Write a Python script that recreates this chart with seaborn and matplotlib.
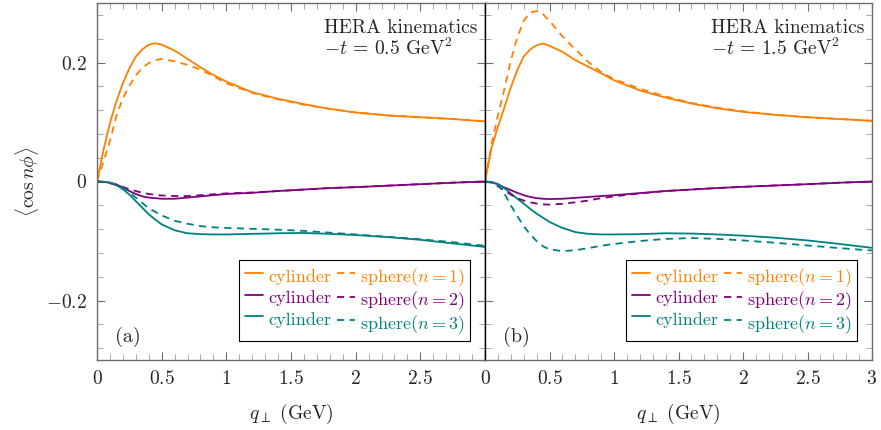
import numpy as np
import pandas as pd
import matplotlib
matplotlib.use("Agg")
import matplotlib.pyplot as plt
from matplotlib.ticker import MultipleLocator, FixedLocator
import seaborn as sns

sns.set_style("ticks")
plt.rcParams['font.family'] = ['cmr10', 'DejaVu Serif']
plt.rcParams['mathtext.fontset'] = 'cm'
plt.rcParams['axes.formatter.use_mathtext'] = True
plt.rcParams['axes.unicode_minus'] = True

# q_perp grid (GeV), shared by every curve
q_perp = [0, 0.05, 0.1, 0.15, 0.2, 0.25, 0.3, 0.35, 0.4, 0.45, 0.5, 0.6, 0.7,
          0.8, 0.9, 1.0, 1.2, 1.4, 1.6, 1.8, 2.0, 2.25, 2.5, 2.75, 3.0]

# panel (a): -t = 0.5 GeV^2
a_cyl_n1 = [0, 0.053, 0.098, 0.135, 0.165, 0.190, 0.210, 0.222, 0.230, 0.2325, 0.230, 0.220, 0.206,
            0.192, 0.179, 0.168, 0.150, 0.139, 0.130, 0.122, 0.116, 0.111, 0.108, 0.105, 0.101]
a_sph_n1 = [0, 0.033, 0.068, 0.110, 0.140, 0.161, 0.178, 0.191, 0.199, 0.204, 0.206, 0.202, 0.196,
            0.188, 0.177, 0.165, 0.149, 0.138, 0.129, 0.122, 0.116, 0.111, 0.108, 0.105, 0.101]
a_cyl_n2 = [0, -0.0005, -0.002, -0.005, -0.010, -0.016, -0.021, -0.025, -0.027, -0.028, -0.029, -0.029, -0.027,
            -0.025, -0.023, -0.021, -0.019, -0.016, -0.0135, -0.011, -0.0095, -0.007, -0.0045, -0.002, 0.0]
a_sph_n2 = [0, -0.001, -0.003, -0.006, -0.009, -0.013, -0.016, -0.019, -0.021, -0.0225, -0.0235, -0.0245, -0.0245,
            -0.023, -0.0215, -0.020, -0.0185, -0.016, -0.0135, -0.011, -0.0095, -0.007, -0.0045, -0.002, 0.0]
a_cyl_n3 = [0, -0.0005, -0.002, -0.006, -0.013, -0.022, -0.033, -0.044, -0.055, -0.064, -0.072, -0.082, -0.087,
            -0.0885, -0.089, -0.089, -0.088, -0.087, -0.0865, -0.088, -0.090, -0.0935, -0.098, -0.104, -0.110]
a_sph_n3 = [0, -0.0005, -0.002, -0.005, -0.010, -0.018, -0.027, -0.036, -0.045, -0.051, -0.057, -0.066, -0.071,
            -0.075, -0.077, -0.078, -0.0795, -0.081, -0.083, -0.086, -0.089, -0.093, -0.097, -0.102, -0.108]

# panel (b): -t = 1.5 GeV^2
b_cyl_n1 = [0, 0.056, 0.092, 0.124, 0.158, 0.187, 0.210, 0.222, 0.229, 0.232, 0.228, 0.218, 0.204,
            0.193, 0.182, 0.170, 0.153, 0.141, 0.131, 0.123, 0.117, 0.112, 0.108, 0.105, 0.102]
b_sph_n1 = [0, 0.062, 0.111, 0.155, 0.203, 0.242, 0.270, 0.284, 0.2865, 0.281, 0.270, 0.244, 0.222,
            0.201, 0.184, 0.172, 0.156, 0.143, 0.132, 0.124, 0.118, 0.112, 0.108, 0.105, 0.102]
b_cyl_n2 = [0, -0.001, -0.005, -0.010, -0.0145, -0.019, -0.023, -0.026, -0.028, -0.029, -0.0295, -0.029, -0.0275,
            -0.026, -0.0245, -0.023, -0.0195, -0.016, -0.0135, -0.011, -0.009, -0.0067, -0.0045, -0.002, 0.0]
b_sph_n2 = [0, -0.002, -0.008, -0.015, -0.022, -0.028, -0.032, -0.035, -0.037, -0.0385, -0.0388, -0.0375, -0.035,
            -0.032, -0.028, -0.025, -0.020, -0.016, -0.0135, -0.011, -0.009, -0.0067, -0.0045, -0.002, 0.0]
b_cyl_n3 = [0, -0.001, -0.004, -0.011, -0.020, -0.029, -0.037, -0.046, -0.054, -0.061, -0.068, -0.078, -0.085,
            -0.088, -0.089, -0.089, -0.0885, -0.087, -0.0875, -0.089, -0.091, -0.0945, -0.099, -0.105, -0.1115]
b_sph_n3 = [0, -0.001, -0.005, -0.020, -0.040, -0.058, -0.075, -0.089, -0.100, -0.109, -0.114, -0.117, -0.1155,
            -0.112, -0.108, -0.105, -0.100, -0.0965, -0.095, -0.0965, -0.099, -0.103, -0.1075, -0.112, -0.116]

panels = [
    ("(a)", "0.5", [a_cyl_n1, a_cyl_n2, a_cyl_n3], [a_sph_n1, a_sph_n2, a_sph_n3]),
    ("(b)", "1.5", [b_cyl_n1, b_cyl_n2, b_cyl_n3], [b_sph_n1, b_sph_n2, b_sph_n3]),
]
colors = ["#ff8000", "#800080", "#008080"]
spine_gray = "#6e6e6e"

fig = plt.figure(figsize=(8.81, 4.30), dpi=100)
ax_l = fig.add_axes([97 / 881, 1 - 360 / 430, 388 / 881, 357 / 430])
ax_r = fig.add_axes([485 / 881, 1 - 360 / 430, 387 / 881, 357 / 430])

for ax, (tag, tval, cyl, sph) in zip([ax_l, ax_r], panels):
    for n in range(3):
        sns.lineplot(x=q_perp, y=cyl[n], ax=ax, color=colors[n], linewidth=1.3)
    for n in range(3):
        sns.lineplot(x=q_perp, y=sph[n], ax=ax, color=colors[n], linewidth=1.3,
                     linestyle=(0, (4, 3)))
    handles = list(ax.lines)
    labels = ["cylinder"] * 3 + ["sphere($n=%d$)" % (n + 1) for n in range(3)]
    # tall handle boxes keep the rows of both columns on the same baselines
    leg = ax.legend(handles, labels, ncol=2, loc="lower right",
                    bbox_to_anchor=(0.962, 0.053), borderaxespad=0, fontsize=13,
                    handlelength=1.0, handleheight=1.45, handletextpad=0.3,
                    columnspacing=0.3, labelspacing=0.0, borderpad=0.3,
                    fancybox=False, edgecolor="black", framealpha=1)
    leg.get_frame().set_linewidth(0.8)
    for txt, h in zip(leg.get_texts(), handles):
        txt.set_color(h.get_color())

    ax.text(0.585, 0.916, "HERA kinematics", transform=ax.transAxes,
            fontsize=14, va="baseline", ha="left")
    ax.text(0.585, 0.854, "$-t$ = %s GeV$^2$" % tval, transform=ax.transAxes,
            fontsize=14, va="baseline", ha="left")
    ax.text(0.046, 0.05, tag, transform=ax.transAxes, fontsize=14.5,
            va="baseline", ha="left")

    ax.set_xlim(0, 3)
    ax.set_ylim(-0.3, 0.3)
    ax.xaxis.set_major_locator(MultipleLocator(0.5))
    ax.xaxis.set_minor_locator(MultipleLocator(0.1))
    ax.yaxis.set_major_locator(FixedLocator([-0.2, 0, 0.2]))
    ax.yaxis.set_minor_locator(MultipleLocator(0.04))
    ax.tick_params(which="both", direction="in", top=True, right=True,
                   color=spine_gray, labelsize=14, pad=7)
    ax.tick_params(which="major", length=6, width=0.8)
    ax.tick_params(which="minor", length=4.5, width=0.6, color="#9a9a9a")
    for s in ax.spines.values():
        s.set_color(spine_gray)
        s.set_linewidth(1.0)
    ax.set_xlabel(r"$q_\perp$ (GeV)", fontsize=14, labelpad=10)

ax_l.set_xticks([0, 0.5, 1, 1.5, 2, 2.5])
ax_l.set_xticklabels(["$0$", "$0.5$", "$1$", "$1.5$", "$2$", "$2.5$"])
ax_r.set_xticks([0, 0.5, 1, 1.5, 2, 2.5, 3])
ax_r.set_xticklabels(["$0$", "$0.5$", "$1$", "$1.5$", "$2$", "$2.5$", "$3$"])
ax_l.set_yticks([-0.2, 0, 0.2])
ax_l.set_yticklabels(["$-0.2$", "$0$", "$0.2$"])
ax_r.set_yticklabels([])
ax_l.set_ylabel(r"$\langle \cos n\phi \rangle$", fontsize=14, labelpad=4)
ax_l.spines["right"].set_color("black")
ax_r.spines["left"].set_color("black")

fig.savefig("out.png", dpi=100)
